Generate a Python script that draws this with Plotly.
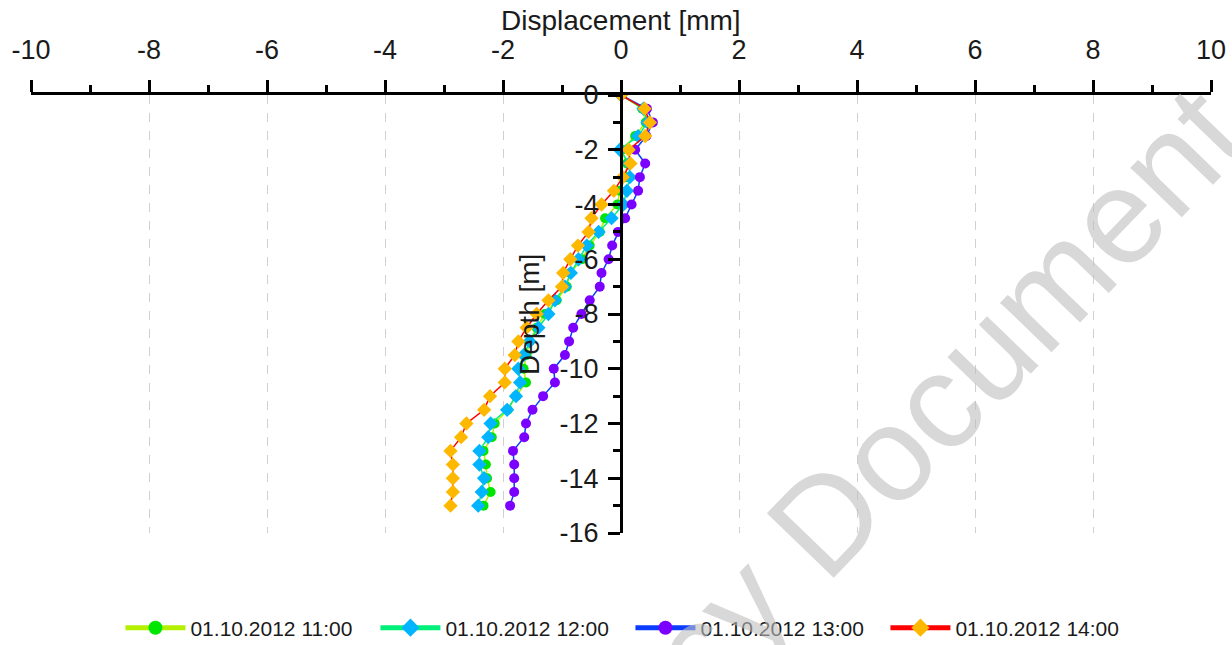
import plotly.graph_objects as go

# Inclinometer profile: horizontal displacement vs. depth for four readings
depth = [0, -0.5, -1, -1.5, -2, -2.5, -3, -3.5, -4, -4.5, -5, -5.5, -6, -6.5, -7, -7.5,
         -8, -8.5, -9, -9.5, -10, -10.5, -11, -11.5, -12, -12.5, -13, -13.5, -14, -14.5, -15]

disp_1100 = [0, 0.36, 0.42, 0.24, 0.01, 0.10, 0.08, -0.02, -0.06, -0.27, -0.36, -0.53, -0.66,
             -0.86, -0.92, -1.09, -1.29, -1.43, -1.55, -1.60, -1.65, -1.61, -1.78, -1.92,
             -2.14, -2.19, -2.33, -2.29, -2.27, -2.21, -2.33]
disp_1200 = [0, 0.38, 0.45, 0.29, -0.02, 0.14, 0.15, 0.10, 0.04, -0.16, -0.38, -0.58, -0.72,
             -0.85, -0.95, -1.12, -1.23, -1.40, -1.55, -1.65, -1.74, -1.71, -1.78, -1.93,
             -2.21, -2.25, -2.40, -2.40, -2.32, -2.36, -2.42]
disp_1300 = [0, 0.44, 0.54, 0.43, 0.24, 0.41, 0.32, 0.29, 0.18, 0.07, -0.05, -0.15, -0.21,
             -0.33, -0.36, -0.53, -0.67, -0.81, -0.88, -0.95, -1.14, -1.12, -1.32, -1.50,
             -1.61, -1.64, -1.83, -1.81, -1.81, -1.81, -1.88]
disp_1400 = [0, 0.40, 0.49, 0.41, 0.13, 0.16, 0.03, -0.12, -0.33, -0.50, -0.55, -0.73, -0.86,
             -0.98, -1.00, -1.23, -1.43, -1.60, -1.74, -1.80, -1.97, -1.97, -2.22, -2.32,
             -2.62, -2.71, -2.89, -2.85, -2.85, -2.85, -2.89]

series_names = ["01.10.2012 11:00", "01.10.2012 12:00", "01.10.2012 13:00", "01.10.2012 14:00"]
series_values = [disp_1100, disp_1200, disp_1300, disp_1400]
line_colors = ["#b4f000", "#00f07a", "#0a3cff", "#ff0000"]
marker_colors = ["#00e600", "#00b4ff", "#7a00ff", "#ffb800"]
marker_symbols = ["circle", "diamond", "circle", "diamond"]

# axis tick labels (plain hyphen as minus sign)
x_tick_vals = [-10, -8, -6, -4, -2, 0, 2, 4, 6, 8, 10]
x_tick_labels = ["-10", "-8", "-6", "-4", "-2", "0", "2", "4", "6", "8", "10"]
y_tick_vals = [0, -2, -4, -6, -8, -10, -12, -14, -16]
y_tick_labels = ["0", "-2", "-4", "-6", "-8", "-10", "-12", "-14", "-16"]

FONT = "Liberation Sans, Arial, sans-serif"
TXT = "#1a1a1a"

fig = go.Figure()

for name, vals, lc, mc, sym in zip(series_names, series_values, line_colors,
                                   marker_colors, marker_symbols):
    fig.add_trace(go.Scatter(
        x=vals, y=depth, mode="lines+markers", name=name, showlegend=False,
        line=dict(color=lc, width=1.5),
        marker=dict(color=mc, symbol=sym, size=10 if sym == "circle" else 11,
                    line=dict(width=0)),
    ))

# legend entries with heavier line/marker styling
for name, lc, mc, sym in zip(series_names, line_colors, marker_colors, marker_symbols):
    fig.add_trace(go.Scatter(
        x=[None], y=[None], mode="lines+markers", name=name, showlegend=True,
        line=dict(color=lc, width=5),
        marker=dict(color=mc, symbol=sym, size=14, line=dict(width=0)),
    ))

fig.update_layout(
    width=1232, height=645,
    margin=dict(l=31, r=21, t=95, b=112, autoexpand=False),
    paper_bgcolor="white", plot_bgcolor="white",
    font=dict(family=FONT, color=TXT),
    showlegend=True,
    legend=dict(orientation="h", x=0.508, xanchor="center", y=-0.217, yanchor="middle",
                font=dict(size=21, family=FONT, color=TXT),
                itemwidth=60, entrywidth=180,
                bgcolor="rgba(0,0,0,0)", itemsizing="trace"),
    xaxis=dict(
        side="top", range=[-10, 10], automargin=False,
        tickmode="array", tickvals=x_tick_vals, ticktext=x_tick_labels,
        showline=True, linecolor="black", linewidth=3,
        ticks="outside", ticklen=12, tickwidth=3, tickcolor="black",
        ticklabelstandoff=10,
        tickfont=dict(size=27, family=FONT, color=TXT),
        showgrid=True, gridcolor="#d0d0d0", gridwidth=1, griddash="dash",
        zeroline=False,
        minor=dict(dtick=1, tick0=0, ticks="outside", ticklen=7, tickwidth=3,
                   tickcolor="black", showgrid=False),
    ),
    yaxis=dict(
        range=[-16, 0], automargin=False,
        tickmode="array", tickvals=y_tick_vals, ticktext=y_tick_labels,
        anchor="free", position=0.5,
        showline=True, linecolor="black", linewidth=3,
        ticks="outside", ticklen=12, tickwidth=3, tickcolor="black",
        ticklabelstandoff=4,
        tickfont=dict(size=27, family=FONT, color=TXT),
        showgrid=False, zeroline=False,
        minor=dict(dtick=1, tick0=0, ticks="outside", ticklen=7, tickwidth=3,
                   tickcolor="black", showgrid=False),
    ),
    annotations=[
        dict(text="Displacement [mm]", xref="paper", yref="paper", x=0.5, y=1.171,
             xanchor="center", yanchor="middle", showarrow=False,
             font=dict(size=28, family=FONT, color=TXT)),
        dict(text="Depth [m]", xref="paper", yref="paper", x=0.423, y=0.498,
             xanchor="center", yanchor="middle", showarrow=False, textangle=-90,
             font=dict(size=28, family=FONT, color=TXT)),
        dict(text="Legacy Document", xref="paper", yref="paper", x=0.687, y=0.07,
             xanchor="center", yanchor="middle", showarrow=False, textangle=-46,
             font=dict(size=135, family=FONT, color="rgba(190,190,190,0.6)")),
    ],
)

fig.write_html("out.html")
